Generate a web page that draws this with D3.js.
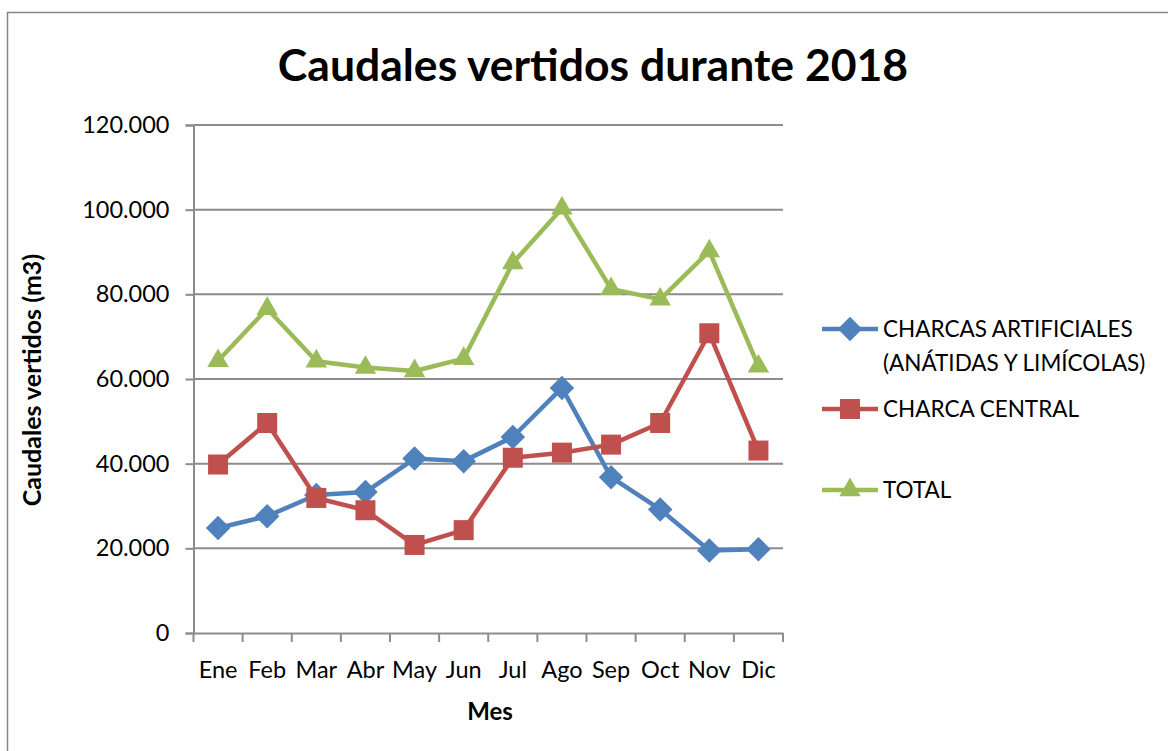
<!DOCTYPE html>
<html>
<head>
<meta charset="utf-8">
<script src="https://cdn.jsdelivr.net/npm/d3@7"></script>
<style>
  html, body { margin: 0; padding: 0; background: #fff; }
  svg { display: block; font-family: Lato, "Open Sans", sans-serif; }
</style>
</head>
<body>
<svg id="chart" width="1168" height="751"></svg>
<script>
const months = ["Ene", "Feb", "Mar", "Abr", "May", "Jun", "Jul", "Ago", "Sep", "Oct", "Nov", "Dic"];
const artificiales = [24800, 27600, 32600, 33300, 41200, 40600, 46300, 57900, 36800, 29200, 19500, 19800];
const central = [39800, 49600, 31900, 29000, 20800, 24300, 41400, 42600, 44500, 49600, 70800, 43100];
const total = [64300, 76600, 64200, 62700, 61900, 64800, 87400, 100300, 81300, 78800, 90200, 63000];
const yTicks = [0, 20000, 40000, 60000, 80000, 100000, 120000];

const series = [
  { name: ["CHARCAS ARTIFICIALES", "(ANÁTIDAS Y LIMÍCOLAS)"], values: artificiales, color: "#4F81BD", marker: d3.symbolSquare, size: 300, rotate: 45 },
  { name: ["CHARCA CENTRAL"], values: central, color: "#C0504D", marker: d3.symbolSquare, size: 400, rotate: 0 },
  { name: ["TOTAL"], values: total, color: "#9BBB59", marker: d3.symbolTriangle, size: 200, rotate: 0 },
];

const svg = d3.select("#chart");
const fmt = (v) => v === 0 ? "0" : d3.format(",.3f")(v / 1000).replace(",", ".");

// outer frame
svg.append("rect").attr("x", 7.5).attr("y", 12.5).attr("width", 1200).attr("height", 800)
  .attr("fill", "none").attr("stroke", "#868686").attr("stroke-width", 1.5);

const plotLeft = 193.5, plotRight = 783, plotTop = 125, plotBottom = 633;
const x = d3.scaleBand().domain(months).range([plotLeft, plotRight]);
const y = d3.scaleLinear().domain([0, 120000]).range([plotBottom, plotTop]);

svg.append("text").attr("x", 593).attr("y", 81).attr("text-anchor", "middle")
  .attr("font-size", 44.5).attr("font-weight", 700).attr("fill", "#000")
  .text("Caudales vertidos durante 2018");

// gridlines
svg.append("g").selectAll("line").data(yTicks.slice(1)).join("line")
  .attr("x1", plotLeft).attr("x2", plotRight).attr("y1", (d) => y(d)).attr("y2", (d) => y(d))
  .attr("stroke", "#8c8c8c").attr("stroke-width", 2);

// y axis
const yAxis = svg.append("g").attr("transform", `translate(${plotLeft},0)`)
  .call(d3.axisLeft(y).tickValues(yTicks).tickFormat(fmt).tickSize(8).tickPadding(16));
yAxis.select(".domain").attr("stroke", "#8c8c8c").attr("stroke-width", 2);
yAxis.selectAll("line").attr("stroke", "#8c8c8c").attr("stroke-width", 2);
yAxis.selectAll("text").attr("font-size", 23.5).attr("fill", "#000").attr("font-family", "Lato, sans-serif");

// x axis
const xAxis = svg.append("g").attr("transform", `translate(0,${plotBottom})`)
  .call(d3.axisBottom(x).tickSize(0).tickPadding(28));
xAxis.select(".domain").attr("stroke", "#8c8c8c").attr("stroke-width", 2);
xAxis.selectAll("text").attr("font-size", 23.5).attr("fill", "#000").attr("font-family", "Lato, sans-serif");
svg.append("g").selectAll("line").data(months.concat(["end"])).join("line")
  .attr("x1", (d, i) => plotLeft + i * x.bandwidth()).attr("x2", (d, i) => plotLeft + i * x.bandwidth())
  .attr("y1", plotBottom).attr("y2", plotBottom + 9)
  .attr("stroke", "#8c8c8c").attr("stroke-width", 2);

svg.append("text").attr("x", 490).attr("y", 720).attr("text-anchor", "middle")
  .attr("font-size", 24).attr("font-weight", 700).text("Mes");
svg.append("text").attr("transform", "translate(41,380) rotate(-90)").attr("text-anchor", "middle")
  .attr("font-size", 25).attr("font-weight", 700).text("Caudales vertidos (m3)");

const cx = (i) => x(months[i]) + x.bandwidth() / 2;
const line = d3.line().x((d, i) => cx(i)).y((d) => y(d));

series.forEach((s) => {
  svg.append("path").attr("d", line(s.values)).attr("fill", "none")
    .attr("stroke", s.color).attr("stroke-width", 4.5).attr("stroke-linejoin", "round");
  svg.append("g").selectAll("path").data(s.values).join("path")
    .attr("transform", (d, i) => `translate(${cx(i)},${y(d)}) rotate(${s.rotate})`)
    .attr("d", d3.symbol(s.marker, s.size)).attr("fill", s.color);
});

// legend
const legendY = [329, 409, 490];
series.forEach((s, i) => {
  const g = svg.append("g").attr("transform", `translate(822,${legendY[i]})`);
  g.append("line").attr("x1", 0).attr("x2", 56).attr("stroke", s.color).attr("stroke-width", 4.5);
  g.append("path").attr("transform", `translate(28,0) rotate(${s.rotate})`).attr("d", d3.symbol(s.marker, s.size)).attr("fill", s.color);
  s.name.forEach((t, j) => {
    g.append("text").attr("x", 61).attr("y", 8 + j * 34).attr("font-size", 22.5).text(t);
  });
});
</script>
</body>
</html>
